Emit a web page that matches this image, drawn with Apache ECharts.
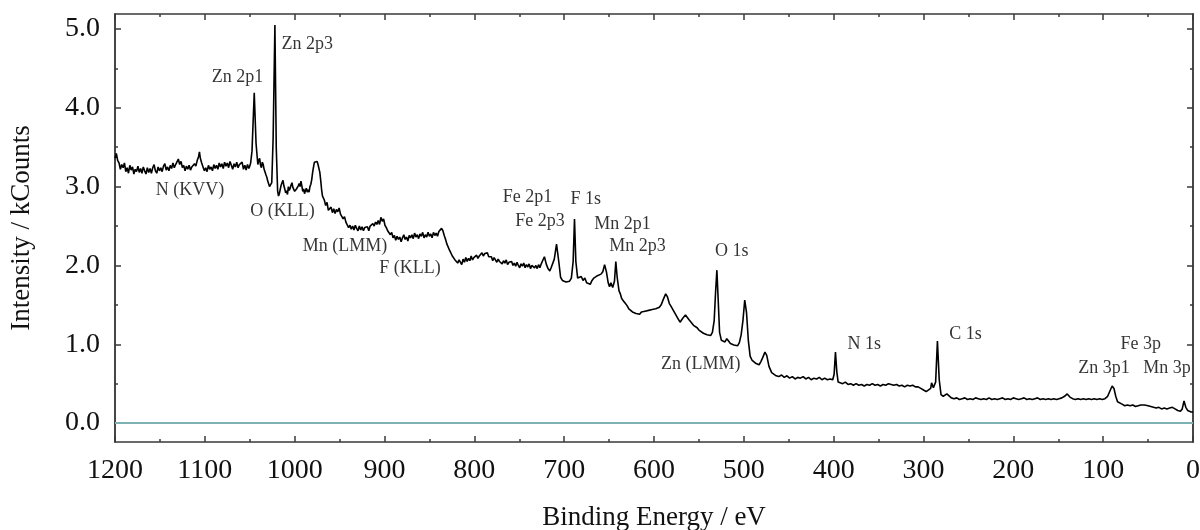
<!DOCTYPE html>
<html>
<head>
<meta charset="utf-8">
<script src="https://cdn.jsdelivr.net/npm/echarts@6/dist/echarts.min.js"></script>
<style>
  html, body { margin: 0; padding: 0; background: #fff; }
  #chart { width: 1200px; height: 530px; }
</style>
</head>
<body>
<div id="chart"></div>
<script>
// XPS survey spectrum: [binding energy (eV), intensity (kCounts)]
const survey = [
  [1200,3.36],[1198.5,3.42],[1197,3.33],[1195.5,3.30],[1194,3.22],[1192.5,3.28],[1191,3.24],[1189.5,3.30],
  [1188,3.19],[1186.5,3.24],[1185,3.17],[1183.5,3.27],[1182,3.21],[1180.5,3.25],[1179,3.16],[1177.5,3.22],
  [1176,3.19],[1174.5,3.26],[1173,3.18],[1171.5,3.23],[1170,3.17],[1168.5,3.25],[1167,3.20],[1165.5,3.16],
  [1164,3.24],[1162.5,3.18],[1161,3.23],[1159.5,3.17],[1158,3.24],[1156.5,3.28],[1155,3.20],[1153.5,3.17],
  [1152,3.25],[1150.5,3.20],[1149,3.24],[1147.5,3.19],[1146,3.26],[1144.5,3.29],[1143,3.21],[1141.5,3.25],
  [1140,3.20],[1138.5,3.27],[1137,3.23],[1135.5,3.30],[1134,3.24],[1132.5,3.28],[1131,3.26],[1129.5,3.35],
  [1128,3.28],[1126.5,3.32],[1125,3.24],[1123.5,3.27],[1122,3.20],[1120.5,3.26],[1119,3.22],[1117.5,3.27],
  [1116,3.21],[1114.5,3.25],[1113,3.23],[1111.5,3.29],[1110,3.26],[1108.5,3.33],[1107,3.38],[1106,3.44],
  [1105,3.36],[1103.5,3.30],[1102,3.25],[1100.5,3.20],[1099,3.24],[1097.5,3.19],[1096,3.27],[1094.5,3.22],
  [1093,3.25],[1091.5,3.20],[1090,3.28],[1088.5,3.23],[1087,3.27],[1085.5,3.22],[1084,3.30],[1082.5,3.25],
  [1081,3.29],[1079.5,3.23],[1078,3.31],[1076.5,3.26],[1075,3.30],[1073.5,3.24],[1072,3.32],[1070.5,3.27],
  [1069,3.22],[1067.5,3.29],[1066,3.25],[1064.5,3.31],[1063,3.24],[1061.5,3.28],[1060,3.26],[1058.5,3.31],
  [1057,3.22],[1055.5,3.27],[1054,3.21],[1052.5,3.28],[1051,3.23],[1050,3.26],[1049,3.30],[1047.5,3.45],
  [1045,4.19],[1043,3.55],[1041,3.28],[1040,3.33],[1039,3.36],[1038,3.27],[1037,3.24],[1036,3.31],
  [1035,3.28],[1034,3.22],[1033,3.20],[1032,3.15],[1031,3.12],[1030,3.07],[1029,3.05],[1028,3.00],
  [1027,2.98],[1025.5,3.05],[1024,3.60],[1022,5.05],[1020.5,3.50],[1019,2.95],[1018,2.88],[1017,2.91],
  [1016,2.97],[1015,3.02],[1014,3.00],[1013,3.08],[1012,3.01],[1011,2.97],[1010,2.92],[1009,2.95],
  [1008,2.90],[1007,3.00],[1006,2.95],[1005,2.98],[1004,3.02],[1003,3.05],[1002,2.99],[1001,3.01],
  [1000,2.94],[999,2.92],[998,2.97],[997,2.95],[996,3.01],[995,3.04],[994,3.00],[993,3.07],
  [992,3.01],[991,2.94],[990,2.97],[989,2.91],[988,2.95],[987,2.98],[986,2.93],[985,2.96],
  [984,2.93],[983,3.00],[982,3.03],[981,3.09],[980,3.18],[979,3.25],[978,3.31],[977,3.33],
  [976,3.29],[975,3.32],[974,3.28],[973,3.30],[972,3.18],[971,3.08],[970,2.96],[969,2.88],
  [967,2.83],[965.5,2.76],[964,2.80],[962.5,2.70],[961,2.68],[959.5,2.74],[958,2.67],[956.5,2.72],
  [955,2.66],[953.5,2.71],[952,2.68],[950.5,2.73],[949,2.65],[947.5,2.64],[946,2.59],[944.5,2.62],
  [943,2.55],[941.5,2.53],[940,2.48],[938.5,2.51],[937,2.46],[935.5,2.50],[934,2.45],[932.5,2.51],
  [931,2.47],[929.5,2.44],[928,2.50],[926.5,2.45],[925,2.49],[923.5,2.44],[922,2.48],[920.5,2.46],
  [919,2.49],[917.5,2.44],[916,2.50],[914.5,2.48],[913,2.53],[911.5,2.50],[910,2.55],[908.5,2.52],
  [907,2.57],[905.5,2.52],[904,2.61],[902.5,2.56],[901,2.59],[899.5,2.51],[898,2.48],[896.5,2.44],
  [895,2.46],[893.5,2.39],[892,2.42],[890.5,2.35],[889,2.38],[887.5,2.32],[886,2.37],[884.5,2.33],
  [883,2.36],[881.5,2.30],[880,2.35],[878.5,2.39],[877,2.33],[875.5,2.36],[874,2.31],[872.5,2.38],
  [871,2.35],[869.5,2.39],[868,2.34],[866.5,2.41],[865,2.36],[863.5,2.39],[862,2.34],[860.5,2.40],
  [859,2.37],[857.5,2.42],[856,2.35],[854.5,2.39],[853,2.36],[851.5,2.42],[850,2.37],[848.5,2.40],
  [847,2.35],[845.5,2.42],[844,2.38],[842.5,2.41],[841,2.37],[839.5,2.43],[838,2.42],[836.5,2.47],
  [835,2.44],[833.5,2.38],[832,2.33],[830.5,2.27],[829,2.25],[827.5,2.19],[826,2.17],[824.5,2.12],
  [823,2.13],[821.5,2.07],[820,2.09],[818.5,2.03],[817,2.07],[815.5,2.05],[814,2.01],[812.5,2.08],
  [811,2.04],[809.5,2.10],[808,2.05],[806.5,2.09],[805,2.06],[803.5,2.12],[802,2.07],[800.5,2.10],
  [799,2.08],[797.5,2.13],[796,2.09],[794.5,2.12],[793,2.10],[791.5,2.16],[790,2.12],[788.5,2.15],
  [787,2.13],[785.5,2.16],[784,2.11],[782.5,2.09],[781,2.11],[779.5,2.06],[778,2.10],[776.5,2.07],
  [775,2.04],[773.5,2.08],[772,2.05],[770.5,2.07],[769,2.02],[767.5,2.06],[766,2.03],[764.5,2.07],
  [763,2.01],[761.5,2.04],[760,2.02],[758.5,2.05],[757,2.00],[755.5,2.03],[754,1.99],[752.5,2.04],
  [751,2.00],[749.5,1.97],[748,2.02],[746.5,1.99],[745,2.03],[743.5,1.97],[742,2.01],[740.5,1.98],
  [739,2.02],[737.5,1.96],[736,2.00],[734.5,2.02],[733,1.97],[731.5,2.00],[730,1.96],[728.5,2.01],
  [727,1.97],[725.5,2.02],[724,2.06],[722,2.11],[720,2.02],[718,1.96],[716,1.93],[714.5,1.97],
  [713,1.98],[711,2.08],[708.5,2.27],[706,2.05],[704,1.85],[702,1.81],[700,1.83],[698,1.79],
  [696,1.81],[694,1.80],[692,1.84],[690,2.05],[688.5,2.59],[687,2.05],[685,1.84],[683,1.82],
  [681,1.86],[679,1.81],[677,1.84],[675,1.78],[673,1.80],[671,1.76],[669,1.81],[667,1.84],
  [665,1.83],[663,1.87],[661,1.85],[659,1.89],[657,1.92],[655,2.01],[653,1.92],[651,1.78],
  [649.5,1.73],[648,1.78],[646,1.72],[644,1.80],[642.5,2.05],[641,1.85],[639,1.68],[637.5,1.64],
  [636,1.58],[634,1.55],[632,1.52],[630,1.49],[628,1.45],[626,1.43],[624,1.41],[622,1.42],
  [620,1.39],[618,1.41],[616,1.38],[614,1.41],[612,1.39],[610,1.42],[608,1.40],[606,1.43],
  [604,1.41],[602,1.44],[600,1.42],[598,1.45],[596,1.43],[594,1.47],[592,1.50],[590,1.56],
  [587,1.64],[585,1.60],[583,1.52],[581,1.48],[579,1.46],[576,1.38],[573,1.32],[571,1.28],
  [568,1.33],[565,1.37],[563,1.36],[561,1.31],[559,1.29],[556,1.24],[554,1.25],[552,1.21],
  [550,1.18],[548,1.16],[545,1.14],[543,1.15],[541,1.12],[539,1.13],[537,1.11],[535,1.15],
  [533,1.30],[531.5,1.65],[530,1.94],[528.5,1.55],[527,1.15],[525,1.05],[523,1.06],[521,1.03],
  [519,1.07],[517,1.04],[515,1.01],[513,1.02],[511,0.99],[509,1.00],[507,0.98],[505,1.02],
  [503,1.12],[501,1.30],[499,1.56],[497,1.40],[495,1.05],[493,0.85],[491,0.80],[489,0.78],
  [487,0.76],[485,0.75],[483,0.74],[481,0.78],[479,0.83],[476.5,0.90],[474.5,0.86],[472,0.72],
  [469,0.64],[467,0.62],[464,0.60],[461,0.59],[458,0.61],[455,0.58],[452,0.60],[449,0.57],
  [446,0.59],[443,0.56],[440,0.58],[437,0.57],[434,0.59],[431,0.56],[428,0.58],[425,0.55],
  [422,0.57],[419,0.56],[416,0.58],[413,0.55],[410,0.57],[407,0.55],[404,0.56],[401,0.55],
  [399.5,0.62],[398,0.90],[396.5,0.65],[395,0.52],[393,0.51],[390,0.50],[387,0.52],[384,0.49],
  [381,0.50],[378,0.48],[375,0.50],[372,0.48],[369,0.49],[366,0.47],[363,0.49],[360,0.48],
  [357,0.50],[354,0.48],[351,0.49],[348,0.47],[345,0.49],[342,0.48],[339,0.50],[336,0.49],
  [333,0.48],[330,0.49],[327,0.47],[324,0.48],[321,0.46],[318,0.48],[315,0.47],[312,0.48],
  [309,0.46],[306,0.46],[303,0.44],[300,0.42],[297,0.40],[295,0.39],[292,0.44],[291,0.51],
  [289,0.45],[286.5,0.52],[284.5,1.04],[282.5,0.55],[280.5,0.36],[278,0.34],[276,0.35],[274,0.37],
  [272,0.35],[269,0.32],[266,0.31],[263,0.32],[260,0.30],[257,0.31],[254,0.32],[251,0.30],
  [248,0.31],[245,0.30],[242,0.32],[239,0.31],[236,0.30],[233,0.31],[230,0.30],[227,0.32],
  [224,0.30],[221,0.31],[218,0.30],[215,0.31],[212,0.32],[209,0.30],[206,0.31],[203,0.30],
  [200,0.32],[197,0.31],[194,0.30],[191,0.31],[188,0.32],[185,0.30],[182,0.31],[179,0.30],
  [176,0.31],[173,0.32],[170,0.30],[167,0.31],[164,0.30],[161,0.31],[158,0.30],[155,0.31],
  [152,0.30],[149,0.31],[146,0.32],[143,0.34],[140,0.37],[137,0.33],[134,0.31],[131,0.30],
  [128,0.31],[125,0.30],[122,0.31],[119,0.30],[116,0.31],[113,0.30],[110,0.31],[107,0.30],
  [104,0.31],[101,0.30],[98,0.31],[95,0.34],[92,0.42],[90,0.47],[88,0.44],[86,0.34],
  [84,0.27],[82,0.25],[79,0.24],[76,0.22],[73,0.23],[70,0.22],[67,0.23],[64,0.21],
  [61,0.22],[58,0.23],[56,0.25],[54,0.23],[52,0.25],[50,0.22],[47,0.21],[44,0.20],
  [41,0.19],[38,0.20],[35,0.18],[32,0.19],[29,0.18],[26,0.19],[23,0.20],[20,0.18],
  [17,0.16],[14,0.15],[12,0.18],[10,0.28],[8,0.20],[6,0.16],[4,0.15],[2,0.14],[0,0.14]
];

// Peak / Auger assignments, anchored at [binding energy, intensity]
const annotations = [
  { name: 'Zn 2p1',   value: [1063.6, 4.39] },
  { name: 'Zn 2p3',   value: [986.0, 4.81] },
  { name: 'N (KVV)',  value: [1116.5, 2.96] },
  { name: 'O (KLL)',  value: [1013.5, 2.69] },
  { name: 'Mn (LMM)', value: [944.0, 2.24] },
  { name: 'F (KLL)',  value: [871.6, 1.97] },
  { name: 'Fe 2p1',   value: [740.8, 2.86] },
  { name: 'Fe 2p3',   value: [726.9, 2.56] },
  { name: 'F 1s',     value: [675.9, 2.84] },
  { name: 'Mn 2p1',   value: [635.0, 2.52] },
  { name: 'Mn 2p3',   value: [618.4, 2.24] },
  { name: 'O 1s',     value: [513.4, 2.18] },
  { name: 'Zn (LMM)', value: [547.9, 0.75] },
  { name: 'N 1s',     value: [366.0, 1.00] },
  { name: 'C 1s',     value: [253.2, 1.13] },
  { name: 'Fe 3p',    value: [58.1, 1.00] },
  { name: 'Zn 3p1',   value: [99.2, 0.695] },
  { name: 'Mn 3p',    value: [28.9, 0.695] }
];

const yMajorTicks = [0, 1, 2, 3, 4, 5];
const yMinorTicks = [0.5, 1.5, 2.5, 3.5, 4.5];
const yRange = [-0.24, 5.19];
const xRange = [0, 1200];

const FONT = '"Liberation Serif", "DejaVu Serif", serif';
const FRAME = '#3a3a3a';

const frameLine = { show: true, onZero: false, lineStyle: { color: FRAME, width: 1.5 } };

function xAxisCfg(pos, withLabels) {
  return {
    type: 'value', position: pos, min: xRange[0], max: xRange[1], interval: 100, inverse: true,
    axisLine: frameLine,
    axisTick: { show: true, inside: true, length: 6, lineStyle: { color: FRAME, width: 1.5 } },
    minorTick: { show: true, splitNumber: 2, length: 3, lineStyle: { color: FRAME, width: 1.5 } },
    splitLine: { show: false },
    minorSplitLine: { show: false },
    axisLabel: withLabels
      ? { show: true, fontFamily: FONT, fontSize: 28, color: '#111', margin: 15,
          formatter: v => String(v) }
      : { show: false }
  };
}

function yAxisCfg(pos, ticks, len, withLabels) {
  return {
    type: 'value', position: pos, min: yRange[0], max: yRange[1],
    axisLine: frameLine,
    axisTick: { show: true, inside: true, length: len, customValues: ticks,
                lineStyle: { color: FRAME, width: 1.5 } },
    splitLine: { show: false },
    axisLabel: withLabels
      ? { show: true, customValues: ticks, fontFamily: FONT, fontSize: 28, color: '#111', margin: 15,
          formatter: v => v.toFixed(1) }
      : { show: false }
  };
}

const xBottom = Object.assign(xAxisCfg('bottom', true), {
  name: 'Binding Energy / eV', nameLocation: 'middle', nameGap: 62,
  nameTextStyle: { fontFamily: FONT, fontSize: 27, color: '#111' }
});
const yLeft = Object.assign(yAxisCfg('left', yMajorTicks, 6, true), {
  name: 'Intensity / kCounts', nameLocation: 'middle', nameGap: 80,
  nameTextStyle: { fontFamily: FONT, fontSize: 27, color: '#111' }
});

const chart = echarts.init(document.getElementById('chart'), null, { renderer: 'canvas' });
chart.setOption({
  animation: false,
  backgroundColor: '#fff',
  grid: { left: 115, right: 7, top: 14, bottom: 88, containLabel: false, outerBoundsMode: 'none' },
  xAxis: [xBottom, xAxisCfg('top', false)],
  yAxis: [
    yLeft,
    yAxisCfg('left', yMinorTicks, 3, false),
    yAxisCfg('right', yMajorTicks, 6, false),
    yAxisCfg('right', yMinorTicks, 3, false)
  ],
  series: [
    {
      type: 'line',
      xAxisIndex: 0, yAxisIndex: 0,
      data: survey,
      showSymbol: false,
      smooth: false,
      lineStyle: { color: '#000', width: 1.6 },
      z: 3,
      markLine: {
        silent: true,
        symbol: ['none', 'none'],
        label: { show: false },
        lineStyle: { color: '#7fb2b2', width: 2, type: 'solid' },
        data: [{ yAxis: 0 }],
        z: 2
      }
    },
    {
      type: 'scatter',
      xAxisIndex: 0, yAxisIndex: 0,
      data: annotations,
      symbolSize: 1,
      itemStyle: { color: 'rgba(0,0,0,0)' },
      clip: false,
      label: {
        show: true, position: 'inside', formatter: p => p.name,
        fontFamily: FONT, fontSize: 18, color: '#000'
      },
      z: 4
    }
  ]
});
</script>
</body>
</html>
